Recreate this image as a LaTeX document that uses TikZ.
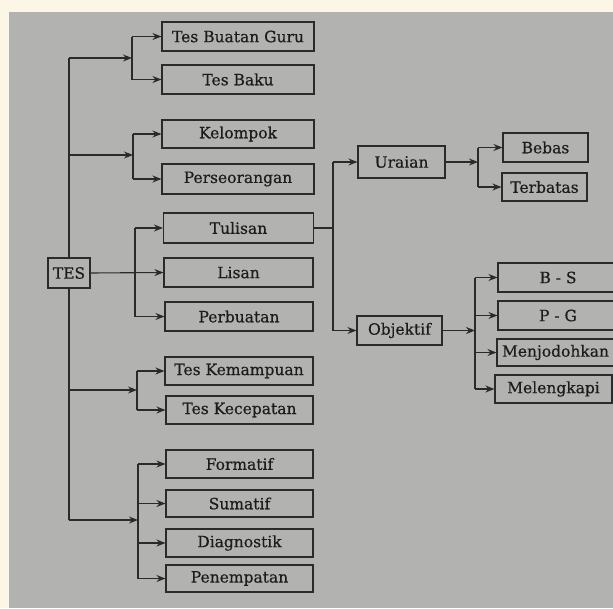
\documentclass[tikz,border=0pt]{standalone}
\usepackage{fontspec}
\setmainfont{DejaVu Serif}
\newfontfamily\boxfont{DejaVu Serif}[FakeBold=0.5]
\usetikzlibrary{arrows.meta}
\definecolor{bgc}{HTML}{B2B2B0}
\definecolor{cream}{HTML}{FBF6E6}
\definecolor{linec}{HTML}{2A2A2A}
\definecolor{textc}{HTML}{1C1C1C}
\tikzset{
  box/.style={draw=linec, line width=1.1pt, fill=bgc, inner sep=0pt, text=textc,
    font=\boxfont\fontsize{15.5}{17}\selectfont},
  ln/.style={draw=linec, line width=1.1pt},
  arr/.style={ln, -{Stealth[length=9pt,width=7pt]}}
}
\begin{document}
\begin{tikzpicture}[x=1pt,y=-1pt]
\useasboundingbox (0,0) rectangle (613,608);
\fill[cream] (0,0) rectangle (613,608);
\fill[bgc] (9,12) rectangle (613,608);
% root
\node[box, minimum width=42pt, minimum height=30pt] (tes) at (69,273) {TES};
% group 1
\node[box, minimum width=152pt, minimum height=29pt] (tbg) at (238,36.5) {Tes Buatan Guru};
\node[box, minimum width=152pt, minimum height=29pt] (tb) at (238,79.5) {Tes Baku};
% group 2
\node[box, minimum width=152pt, minimum height=28pt] (kel) at (238,134) {Kelompok};
\node[box, minimum width=152pt, minimum height=30pt] (per) at (238,179) {Perseorangan};
% group 3
\node[box, minimum width=150pt, minimum height=30pt] (tul) at (238.5,228) {Tulisan};
\node[box, minimum width=149pt, minimum height=29pt] (lis) at (238.5,272.5) {Lisan};
\node[box, minimum width=148pt, minimum height=29pt] (pbt) at (239,316.5) {Perbuatan};
% group 4
\node[box, minimum width=148pt, minimum height=28pt] (tkm) at (239,371) {Tes Kemampuan};
\node[box, minimum width=147pt, minimum height=28pt] (tkc) at (239.5,410) {Tes Kecepatan};
% group 5
\node[box, minimum width=147pt, minimum height=28pt] (frm) at (239.5,464) {Formatif};
\node[box, minimum width=147pt, minimum height=27pt] (sum) at (239.5,503.5) {Sumatif};
\node[box, minimum width=147pt, minimum height=28pt] (dia) at (239.5,543) {Diagnostik};
\node[box, minimum width=147pt, minimum height=27pt] (pen) at (239.5,578.5) {Penempatan};
% level 2
\node[box, minimum width=87pt, minimum height=32pt] (ura) at (401.5,162) {Uraian};
\node[box, minimum width=85pt, minimum height=29pt] (obj) at (399.5,330.5) {Objektif};
\node[box, minimum width=85pt, minimum height=29pt] (beb) at (545.5,147.5) {Bebas};
\node[box, minimum width=85pt, minimum height=28pt] (ter) at (544.5,187) {Terbatas};
\node[box, minimum width=120pt, minimum height=29pt] (bs) at (558,277.5) {B - S};
\node[box, minimum width=120pt, minimum height=29pt] (pg) at (558,315.5) {P - G};
\node[box, minimum width=117pt, minimum height=27pt] (men) at (555.5,352.5) {Menjodohkan};
\node[box, minimum width=117pt, minimum height=28pt] (mel) at (553.5,389) {Melengkapi};
% trunk coordinates
\coordinate (c1) at (69,58);
\coordinate (c2) at (69,155);
\coordinate (c4) at (69,390);
\coordinate (c5) at (69,520);
\coordinate (j1) at (132,58);
\coordinate (j2) at (133,155);
\coordinate (j3) at (135,272.5);
\coordinate (j4) at (137,390);
\coordinate (j5) at (138,520);
\coordinate (ct) at (333,228);
\coordinate (j6) at (478,162);
\coordinate (j7) at (475,330.5);
% trunk
\draw[ln] (c1) -- (tes.north);
\draw[ln] (tes.south) -- (c5);
\draw[arr] (c1) -- (j1);
\draw[arr] (c2) -- (j2);
\draw[arr] (c4) -- (j4);
\draw[arr] (c5) -- (j5);
% group 1
\draw[ln] (j1 |- tbg.west) -- (j1 |- tb.west);
\draw[arr] (j1 |- tbg.west) -- (tbg.west);
\draw[arr] (j1 |- tb.west) -- (tb.west);
% group 2
\draw[ln] (j2 |- kel.west) -- (j2 |- per.west);
\draw[arr] (j2 |- kel.west) -- (kel.west);
\draw[arr] (j2 |- per.west) -- (per.west);
% group 3
\draw[arr] (tes.east) -- (lis.west);
\draw[ln] (j3 |- tul.west) -- (j3 |- pbt.west);
\draw[arr] (j3 |- tul.west) -- (tul.west);
\draw[arr] (j3 |- pbt.west) -- (pbt.west);
% group 4
\draw[ln] (j4 |- tkm.west) -- (j4 |- tkc.west);
\draw[arr] (j4 |- tkm.west) -- (tkm.west);
\draw[arr] (j4 |- tkc.west) -- (tkc.west);
% group 5
\draw[ln] (j5 |- frm.west) -- (j5 |- pen.west);
\draw[arr] (j5 |- frm.west) -- (frm.west);
\draw[arr] (j5 |- sum.west) -- (sum.west);
\draw[arr] (j5 |- dia.west) -- (dia.west);
\draw[arr] (j5 |- pen.west) -- (pen.west);
% Tulisan branch
\draw[ln] (tul.east) -- (ct);
\draw[ln] (ct |- ura.west) -- (ct |- obj.west);
\draw[arr] (ct |- ura.west) -- (ura.west);
\draw[arr] (ct |- obj.west) -- (obj.west);
% Uraian branch
\draw[arr] (ura.east) -- (j6);
\draw[ln] (j6 |- beb.west) -- (j6 |- ter.west);
\draw[arr] (j6 |- beb.west) -- (beb.west);
\draw[arr] (j6 |- ter.west) -- (ter.west);
% Objektif branch
\draw[arr] (obj.east) -- (j7);
\draw[ln] (j7 |- bs.west) -- (j7 |- mel.west);
\draw[arr] (j7 |- bs.west) -- (bs.west);
\draw[arr] (j7 |- pg.west) -- (pg.west);
\draw[arr] (j7 |- men.west) -- (men.west);
\draw[arr] (j7 |- mel.west) -- (mel.west);
\end{tikzpicture}
\end{document}
